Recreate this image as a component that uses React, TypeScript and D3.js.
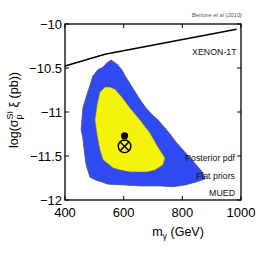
import * as d3 from "d3";

// axis ticks
const X_TICKS = [400, 600, 800, 1000];
const Y_TICKS = [-12, -11.5, -11, -10.5, -10];

// outer (blue) credible region, mass in GeV vs log cross-section
const OUTER_REGION: [number, number][] = [
  [557, -10.41], [577, -10.455], [594, -10.52], [605, -10.59], [622, -10.68],
  [635, -10.75], [656, -10.86], [676, -10.955], [697, -11.03], [717, -11.09],
  [738, -11.17], [758, -11.25], [778, -11.34], [802, -11.43], [826, -11.52],
  [850, -11.61], [870, -11.69], [877, -11.76], [860, -11.78], [847, -11.795],
  [809, -11.83], [768, -11.85], [724, -11.84], [656, -11.84], [605, -11.83],
  [547, -11.82], [502, -11.77], [485, -11.74], [472, -11.6], [465, -11.43],
  [461, -11.3], [455, -11.2], [458, -11.07], [461, -10.955], [472, -10.83],
  [482, -10.73], [495, -10.59], [512, -10.52], [530, -10.49], [543, -10.44],
];

// inner (yellow) credible region
const INNER_REGION: [number, number][] = [
  [536, -10.716], [553, -10.716], [570, -10.739], [594, -10.83], [622, -10.955],
  [656, -11.091], [690, -11.239], [717, -11.398], [741, -11.523], [734, -11.602],
  [707, -11.659], [680, -11.682], [656, -11.682], [622, -11.682], [588, -11.659],
  [564, -11.636], [530, -11.545], [519, -11.432], [509, -11.261], [502, -11.091],
  [509, -10.92], [519, -10.773],
];

// XENON-1T projected sensitivity
const XENON_LINE: [number, number][] = [
  [400, -10.477], [536, -10.344], [985, -10.06],
];

const MEAN_POINT: [number, number] = [603, -11.27];
const BEST_FIT: [number, number] = [603, -11.39];

const LEGEND_LINES = ["Posterior pdf", "Flat priors", "MUED"];

const FONT = "'Liberation Sans', Arial, sans-serif";

export default function App() {
  const W = 266;
  const H = 266;
  const margin = { top: 24, right: 25, bottom: 66, left: 65 };
  const iw = W - margin.left - margin.right;
  const ih = H - margin.top - margin.bottom;

  const x = d3.scaleLinear().domain([400, 1000]).range([0, iw]);
  const y = d3.scaleLinear().domain([-12, -10]).range([ih, 0]);

  const area = d3
    .line<[number, number]>()
    .x((d) => x(d[0]))
    .y((d) => y(d[1]))
    .curve(d3.curveLinearClosed);

  const line = d3
    .line<[number, number]>()
    .x((d) => x(d[0]))
    .y((d) => y(d[1]));

  const tickLen = 4;
  const fmt = (v: number) => String(v).replace("-", "\u2212");

  return (
    <svg
      width={W}
      height={H}
      style={{ position: "absolute", left: 0, top: 0, background: "#fff" }}
      fontFamily={FONT}
    >
      <text
        x={242}
        y={17}
        textAnchor="end"
        fontSize={5.7}
        fontStyle="italic"
        fill="#555"
      >
        Bertone et al (2010)
      </text>

      <g transform={`translate(${margin.left},${margin.top})`}>
        {/* credible regions */}
        <path d={area(OUTER_REGION) ?? ""} fill="#2f4af2" stroke="#555" strokeWidth={0.8} />
        <path d={area(INNER_REGION) ?? ""} fill="#f4f40a" stroke="#666" strokeWidth={0.6} />

        {/* XENON-1T */}
        <path d={line(XENON_LINE) ?? ""} fill="none" stroke="#000" strokeWidth={1.6} />
        <text x={x(985)} y={31} textAnchor="end" fontSize={8.8} fill="#111">
          XENON-1T
        </text>

        {/* markers */}
        <circle cx={x(MEAN_POINT[0])} cy={y(MEAN_POINT[1])} r={3.6} fill="#000" />
        <g transform={`translate(${x(BEST_FIT[0])},${y(BEST_FIT[1])})`}>
          <circle r={6.3} fill="none" stroke="#000" strokeWidth={1.4} />
          <line x1={-4.4} y1={-4.4} x2={4.4} y2={4.4} stroke="#000" strokeWidth={1.4} />
          <line x1={-4.4} y1={4.4} x2={4.4} y2={-4.4} stroke="#000" strokeWidth={1.4} />
        </g>

        {/* legend text */}
        {LEGEND_LINES.map((t, i) => (
          <text
            key={t}
            x={iw - 6}
            y={137 + i * 17.6}
            textAnchor="end"
            fontSize={8.8}
            fill="#111"
          >
            {t}
          </text>
        ))}

        {/* frame */}
        <rect x={0} y={0} width={iw} height={ih} fill="none" stroke="#000" strokeWidth={1.3} />

        {/* x ticks */}
        {X_TICKS.map((v) => (
          <g key={v}>
            <line x1={x(v)} x2={x(v)} y1={ih} y2={ih - tickLen} stroke="#000" strokeWidth={1} />
            <line x1={x(v)} x2={x(v)} y1={0} y2={tickLen} stroke="#000" strokeWidth={1} />
            <text x={x(v)} y={ih + 17} textAnchor="middle" fontSize={13} fill="#000">
              {fmt(v)}
            </text>
          </g>
        ))}

        {/* y ticks */}
        {Y_TICKS.map((v) => (
          <g key={v}>
            <line x1={0} x2={tickLen} y1={y(v)} y2={y(v)} stroke="#000" strokeWidth={1} />
            <line x1={iw} x2={iw - tickLen} y1={y(v)} y2={y(v)} stroke="#000" strokeWidth={1} />
            <text x={-3} y={y(v) + 4.6} textAnchor="end" fontSize={13} fill="#000">
              {fmt(v)}
            </text>
          </g>
        ))}

        {/* x label */}
        <text x={iw / 2 + 25} y={ih + 36} textAnchor="middle" fontSize={12.5} fill="#000">
          m
          <tspan dy={3} fontSize={9}>γ</tspan>
          <tspan dy={-3}> (GeV)</tspan>
        </text>

        {/* y label */}
        <text
          transform={`translate(${-47},${ih / 2 - 2}) rotate(-90)`}
          textAnchor="middle"
          fontSize={12.5}
          fill="#000"
        >
          log(σ
          <tspan dy={-5} fontSize={9}>SI</tspan>
          <tspan dx={-8.5} dy={9} fontSize={9}>p</tspan>
          <tspan dx={3.5} dy={-4}> ξ (pb))</tspan>
        </text>
      </g>
    </svg>
  );
}
